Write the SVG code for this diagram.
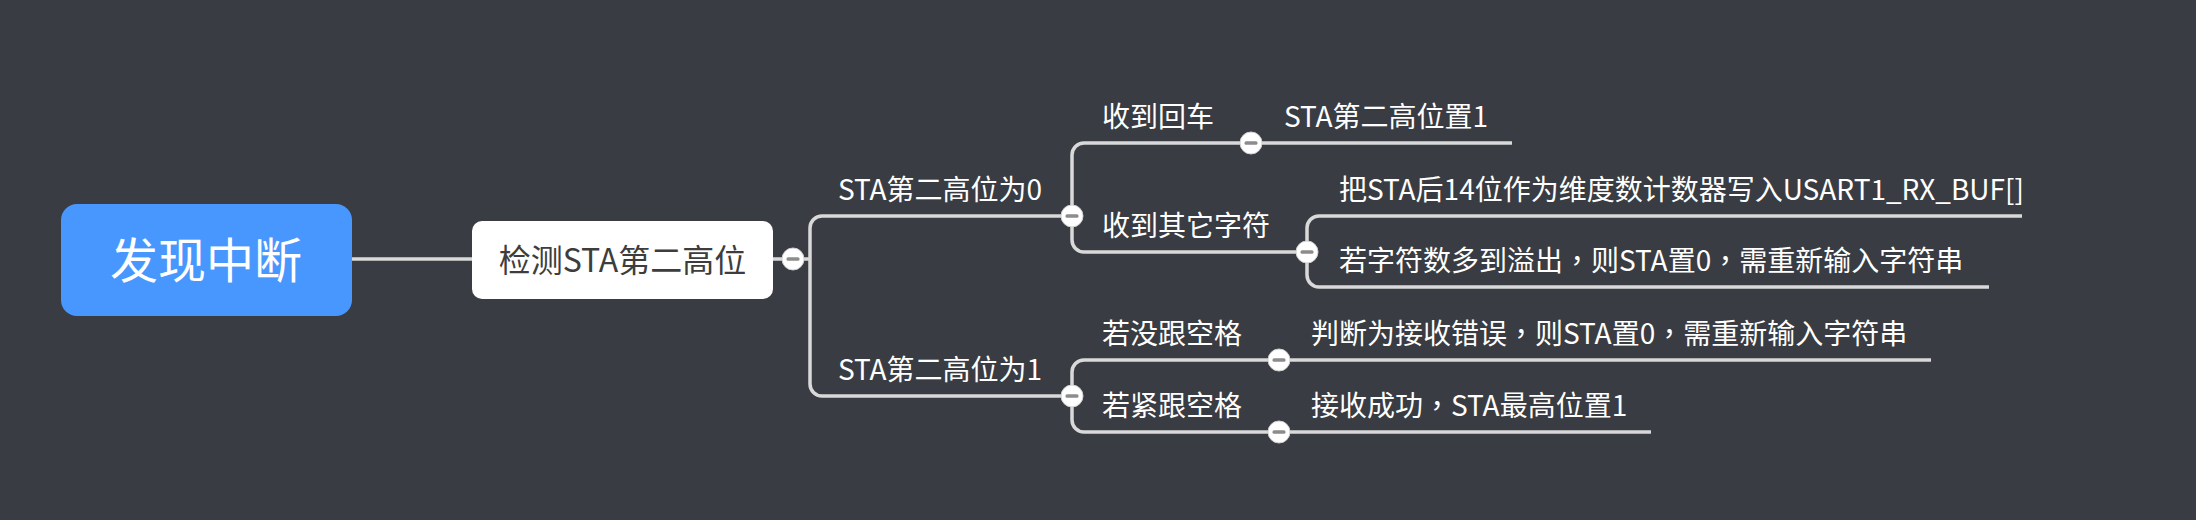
<svg xmlns="http://www.w3.org/2000/svg" width="2196" height="520" viewBox="0 0 2196 520">
<style>
text{font-family:"Noto Sans CJK SC","Noto Sans",sans-serif;}
.lbl{font-size:28px;fill:#ffffff;}
.pc{font-family:"Noto Sans CJK TC","Noto Sans CJK SC",sans-serif;}
.conn{fill:none;stroke:#d9d9d9;stroke-width:3.5;stroke-linecap:butt;}
.btn circle{fill:#ffffff;stroke:#d0d0d0;stroke-width:1;}
.btn rect{fill:#8c8c8c;}
</style>
<defs>
<g id="collapse" class="btn"><circle cx="0" cy="0" r="11"/><rect x="-6.5" y="-1.75" width="13" height="3.5" rx="1.5"/></g>
</defs>
<rect x="0" y="0" width="2196" height="520" fill="#393c42"/>
<g id="connectors">
<path class="conn" d="M352 259 H472"/>
<path class="conn" d="M773 259 H810"/>
<path class="conn" d="M1072 216 H822 A12 12 0 0 0 810 228 V384 A12 12 0 0 0 822 396 H1072"/>
<path class="conn" d="M1251 143 H1084 A12 12 0 0 0 1072 155 V240 A12 12 0 0 0 1084 252 H1307"/>
<path class="conn" d="M1251 143 H1512"/>
<path class="conn" d="M2022 216 H1319 A12 12 0 0 0 1307 228 V275 A12 12 0 0 0 1319 287 H1989"/>
<path class="conn" d="M1279 360 H1084 A12 12 0 0 0 1072 372 V420 A12 12 0 0 0 1084 432 H1279"/>
<path class="conn" d="M1279 360 H1931"/>
<path class="conn" d="M1279 432 H1651"/>
</g>
<g id="root">
<rect x="61" y="204" width="291" height="112" rx="16" fill="#4897fe"/>
<text x="206" y="278" font-size="48" fill="#ffffff" text-anchor="middle">发现中断</text>
</g>
<g id="node-detect">
<rect x="472" y="221" width="301" height="78" rx="10" fill="#ffffff"/>
<text x="622.5" y="272" font-size="32" fill="#3d3d3d" text-anchor="middle">检测STA第二高位</text>
<use href="#collapse" x="793" y="259"/>
</g>
<g id="node-bit0">
<text class="lbl" x="838" y="200">STA第二高位为0</text>
<use href="#collapse" x="1072" y="216"/>
</g>
<g id="node-enter">
<text class="lbl" x="1102" y="127">收到回车</text>
<use href="#collapse" x="1251" y="143"/>
</g>
<g id="node-enter-set">
<text class="lbl" x="1284" y="127">STA第二高位置1</text>
</g>
<g id="node-other">
<text class="lbl" x="1102" y="236">收到其它字符</text>
<use href="#collapse" x="1307" y="252"/>
</g>
<g id="node-write">
<text class="lbl" x="1339" y="200">把STA后14位作为维度数计数器写入USART1_RX_BUF[]</text>
</g>
<g id="node-overflow">
<text class="lbl" x="1339" y="271">若字符数多到溢出<tspan class="pc">，</tspan>则STA置0<tspan class="pc">，</tspan>需重新输入字符串</text>
</g>
<g id="node-bit1">
<text class="lbl" x="838" y="380">STA第二高位为1</text>
<use href="#collapse" x="1072" y="396"/>
</g>
<g id="node-nospace">
<text class="lbl" x="1102" y="344">若没跟空格</text>
<use href="#collapse" x="1279" y="360"/>
</g>
<g id="node-error">
<text class="lbl" x="1311" y="344">判断为接收错误<tspan class="pc">，</tspan>则STA置0<tspan class="pc">，</tspan>需重新输入字符串</text>
</g>
<g id="node-space">
<text class="lbl" x="1102" y="416">若紧跟空格</text>
<use href="#collapse" x="1279" y="432"/>
</g>
<g id="node-success">
<text class="lbl" x="1311" y="416">接收成功<tspan class="pc">，</tspan>STA最高位置1</text>
</g>
</svg>
